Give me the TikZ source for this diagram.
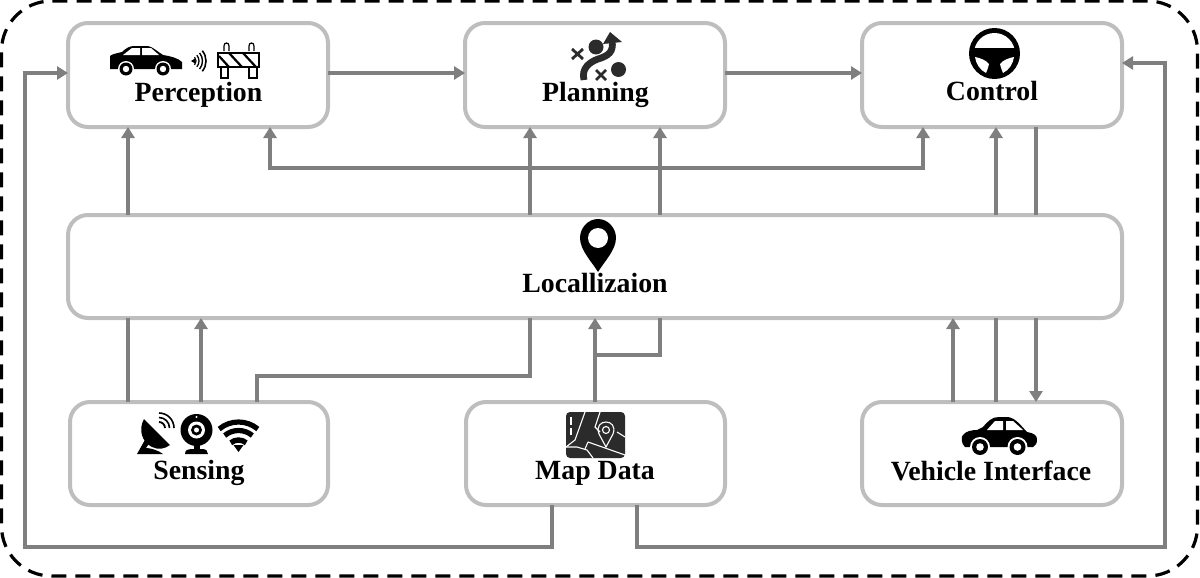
\documentclass[tikz,border=0pt]{standalone}
\usepackage{fontspec}
\setmainfont{Liberation Serif}
\usetikzlibrary{arrows.meta}
\definecolor{boxgray}{HTML}{BEBEBE}
\definecolor{linkgray}{HTML}{7F7F7F}
\definecolor{icondark}{HTML}{2B2B2B}
\tikzset{
  block/.style n args={2}{draw=boxgray,line width=2pt,rounded corners=10pt,inner sep=0pt,outer sep=0pt,minimum width=#1*0.5pt,minimum height=#2*0.5pt},
  frame/.style={draw=black,line width=1.6pt,dash pattern=on 7.5pt off 4.5pt,rounded corners=25pt,inner sep=0pt,outer sep=0pt,minimum width=598pt,minimum height=287.5pt},
  label/.style={font=\bfseries\fontsize{13.9pt}{14pt}\selectfont,inner sep=0pt,text=black,anchor=base},
  link/.style={draw=linkgray,line width=2pt},
  flow/.style={link,-{Triangle[width=6.5pt,length=5.5pt]}},
  both/.style={link,{Triangle[width=6.5pt,length=5.5pt]}-{Triangle[width=6.5pt,length=5.5pt]}},
  icon/.style={fill=black,draw=none},
  hole/.style={fill=white,draw=none},
  wave/.style={draw=black,line width=#1,fill=none},
  mapline/.style={draw=white,line width=0.55pt,fill=none},
}
\begin{document}
\begin{tikzpicture}[x=0.5pt,y=-0.5pt]
\useasboundingbox (0,0) rectangle (1200,578);
\node[frame] (outer) at (599.5,288.5) {};
% blocks
\node[block={260}{104}] (perc) at (198,75) {};
\node[block={260}{104}] (plan) at (595,75) {};
\node[block={260}{104}] (ctrl) at (992,75) {};
\node[block={1054}{103}] (loc) at (595,266.5) {};
\node[block={258}{103}] (sens) at (199,453.5) {};
\node[block={259}{103}] (mapd) at (595.5,453.5) {};
\node[block={260}{103}] (vehi) at (992,453.5) {};
% labels
\node[label] (tperc) at (198.5,101) {Perception};
\node[label] (tplan) at (595.5,101) {Planning};
\node[label] (tctrl) at (992,100) {Control};
\node[label] (tloc) at (595,292) {Locallizaion};
\node[label] (tsens) at (199,479) {Sensing};
\node[label] (tmapd) at (595,479) {Map Data};
\node[label] (tvehi) at (991,480) {Vehicle Interface};
% lanes
\foreach \n/\x in {a/128,b/201,c/257,d/270,e/530,f/595,g/660,h/923,i/953,j/996,k/1036,m/552,n/637,o/25,p/1165}
  \coordinate (x\n) at (\x,0);
\coordinate (ymid) at (0,168);
\coordinate (ysen) at (0,376);
\coordinate (ymap) at (0,355);
\coordinate (ybot) at (0,547);
\coordinate (yl) at (0,73);
\coordinate (yr) at (0,63);
% connectors
\draw[flow] (perc.east |- yl) -- (plan.west |- yl);
\draw[flow] (plan.east |- yl) -- (ctrl.west |- yl);
\draw[both] (xd |- perc.south) -- (xd |- ymid) -- (xh |- ymid) -- (xh |- ctrl.south);
\draw[flow] (xa |- loc.north) -- (xa |- perc.south);
\draw[flow] (xe |- loc.north) -- (xe |- plan.south);
\draw[flow] (xg |- loc.north) -- (xg |- plan.south);
\draw[flow] (xj |- loc.north) -- (xj |- ctrl.south);
\draw[link] (xk |- ctrl.south) -- (xk |- loc.north);
\draw[flow] (xk |- loc.south) -- (xk |- vehi.north);
\draw[link] (xa |- sens.north) -- (xa |- loc.south);
\draw[flow] (xb |- sens.north) -- (xb |- loc.south);
\draw[link] (xc |- sens.north) -- (xc |- ysen) -- (xe |- ysen) -- (xe |- loc.south);
\draw[flow] (xf |- mapd.north) -- (xf |- loc.south);
\draw[link] (xf |- ymap) -- (xg |- ymap) -- (xg |- loc.south);
\draw[flow] (xi |- vehi.north) -- (xi |- loc.south);
\draw[link] (xj |- vehi.north) -- (xj |- loc.south);
\draw[flow] (xm |- mapd.south) -- (xm |- ybot) -- (xo |- ybot) -- (xo |- yl) -- (perc.west |- yl);
\draw[flow] (xn |- mapd.south) -- (xn |- ybot) -- (xp |- ybot) -- (xp |- yr) -- (ctrl.east |- yr);
% sedan
\fill[icon] (110,69) -- (110,56) .. controls (112,54) and (118,53) .. (122,52) .. controls (126,48) and (130,46) .. (134,46) -- (148,46) .. controls (153,47) and (158,52) .. (163,55) .. controls (170,56) and (178,58) .. (182,62) -- (182,69) -- cycle;
\fill[hole] (123,55) -- (132,48) -- (140,48) -- (140,55) -- cycle;
\fill[hole] (142,48) -- (151,48) -- (159,55) -- (142,55) -- cycle;
\foreach \cx in {126,163} {
  \fill[hole] (\cx,69) circle (8);
  \fill[icon] (\cx,69) circle (6.5);
  \fill[hole] (\cx,69) circle (3.2);
}
% signal
\fill[icon] (191,61) -- (195,58.5) -- (195,63.5) -- cycle;
\foreach \r/\w in {6/0.6pt,9/0.65pt,12.5/0.7pt,16/0.8pt}
  \draw[wave=\w] ({190+\r*cos(40)},{61-\r*sin(40)}) arc[start angle=-40,end angle=40,radius=\r];
% barrier
\draw[wave=0.6pt] (218,53) rectangle (259,67);
\draw[wave=0.6pt] (221,67) -- (221,78) -- (228,78) -- (228,67);
\draw[wave=0.6pt] (249,67) -- (249,78) -- (257,78) -- (257,67);
\draw[wave=0.6pt] (224,51) -- (224,46) .. controls (224,42) and (229,42) .. (229,46) -- (229,51);
\draw[wave=0.6pt] (249,51) -- (249,46) .. controls (249,42) and (254,42) .. (254,46) -- (254,51);
\draw[wave=1.1pt] (219,56) -- (229,67);
\draw[wave=1.1pt] (229,53) -- (242,67);
\draw[wave=1.1pt] (243,53) -- (256,67);
% planning icon
\fill[icondark] (596,47) circle (7.5);
\fill[icondark] (618.5,69.5) circle (7.5);
\draw[icondark,line width=1.4pt] (572,49) -- (583,59) (583,49) -- (572,59);
\draw[icondark,line width=1.4pt] (596,70) -- (606,80) (606,70) -- (596,80);
\fill[icondark] (610,32) -- (622,42) -- (603,44) -- cycle;
\draw[icondark,line width=3.4pt] (584,80) .. controls (581,68) and (590,62) .. (598,59) .. controls (608,56) and (614,52) .. (612,41);
% steering wheel
\fill[icon] (994.5,53.5) circle (25.5);
\begin{scope}
\clip (960,20) rectangle (1030,47.5);
\fill[hole] (994.5,53.5) circle (20.5);
\end{scope}
\fill[hole] (975,57) .. controls (980,58) and (986,60) .. (989,64) .. controls (988,68) and (987,71) .. (986,73) .. controls (980,70) and (976,64) .. (975,57) -- cycle;
\fill[hole] (1014,57) .. controls (1009,58) and (1003,60) .. (1000,64) .. controls (1001,68) and (1002,71) .. (1003,73) .. controls (1009,70) and (1013,64) .. (1014,57) -- cycle;
% location pin
\fill[icon] (580,238) .. controls (580,228) and (588,219) .. (598,219) .. controls (608,219) and (616,228) .. (616,238) .. controls (616,250) and (604,262) .. (598,272) .. controls (592,262) and (580,250) .. (580,238) -- cycle;
\fill[hole] (598,238) circle (10);
% dish
\fill[icon] (144,419) .. controls (138,430) and (142,442) .. (152,447) .. controls (158,450) and (165,449) .. (170,445) -- cycle;
\fill[icon] (137,454) -- (146,438) -- (150,442) -- (146,448) .. controls (150,448) and (158,450) .. (163,454) -- cycle;
\foreach \r/\w in {6/0.9pt,10.5/0.8pt,15/0.8pt}
  \draw[wave=\w] (159,{428-\r}) arc[start angle=-90,end angle=0,radius=\r];
% webcam
\fill[icon] (196.5,430) circle (16);
\fill[hole] (196.5,430) circle (8.5);
\fill[icon] (196.5,430) circle (5.5);
\fill[hole] (196.5,430) circle (2.5);
\fill[hole] (196.5,417) circle (1.2);
\fill[icon] (193.5,444) rectangle (199.5,451);
\fill[icon] (185,454) .. controls (185,450) and (188,449) .. (191,449) -- (202,449) .. controls (206,449) and (208,451) .. (208,454) -- cycle;
% wifi
\foreach \r/\w in {12/2.7pt,21.5/2.6pt,30/2.6pt}
  \draw[wave=\w] ({238.5-\r*sin(40)},{452-\r*cos(40)}) arc[start angle=-130,end angle=-50,radius=\r];
\fill[icon] (238.5,452) -- (233.5,445) -- (243.5,445) -- cycle;
% map
\fill[icondark,rounded corners=2pt] (566,412) rectangle (625,458);
\draw[mapline] (585,412) -- (575,440) -- (566,447);
\draw[mapline] (571,417) -- (571,425) (571,428) -- (571,435);
\draw[mapline] (600,412) -- (595,427) -- (600,432);
\draw[mapline] (617,432) -- (625,437);
\draw[mapline] (588,442) -- (625,455);
\draw[mapline] (588,442) -- (585,449);
\draw[mapline] (566,447) -- (577,447) -- (587,450) -- (593,458);
\draw[mapline] (606,447) -- (599,434) .. controls (596,426) and (601,422) .. (606,422) .. controls (611,422) and (616,426) .. (613,434) -- cycle;
\draw[mapline] (606,430) circle (3.5);
% vehicle car
\fill[icon] (965,447) .. controls (961,444) and (961,436) .. (963,435) .. controls (966,431) and (972,430) .. (977,430) -- (983,427) .. controls (988,421) and (992,417) .. (999,417) -- (1008,417) .. controls (1016,418) and (1022,427) .. (1027,432) .. controls (1033,433) and (1037,435) .. (1037,439) .. controls (1037,443) and (1036,446) .. (1033,447) -- cycle;
\fill[hole] (987,430) -- (995,421) -- (1003,421) -- (1003,430) -- cycle;
\fill[hole] (1006,421) -- (1013,421) -- (1023,430) -- (1006,430) -- cycle;
\foreach \cx in {980,1017.5} {
  \fill[hole] (\cx,447) circle (10);
  \fill[icon] (\cx,447) circle (8);
  \fill[hole] (\cx,447) circle (3.8);
}
\end{tikzpicture}
\end{document}
